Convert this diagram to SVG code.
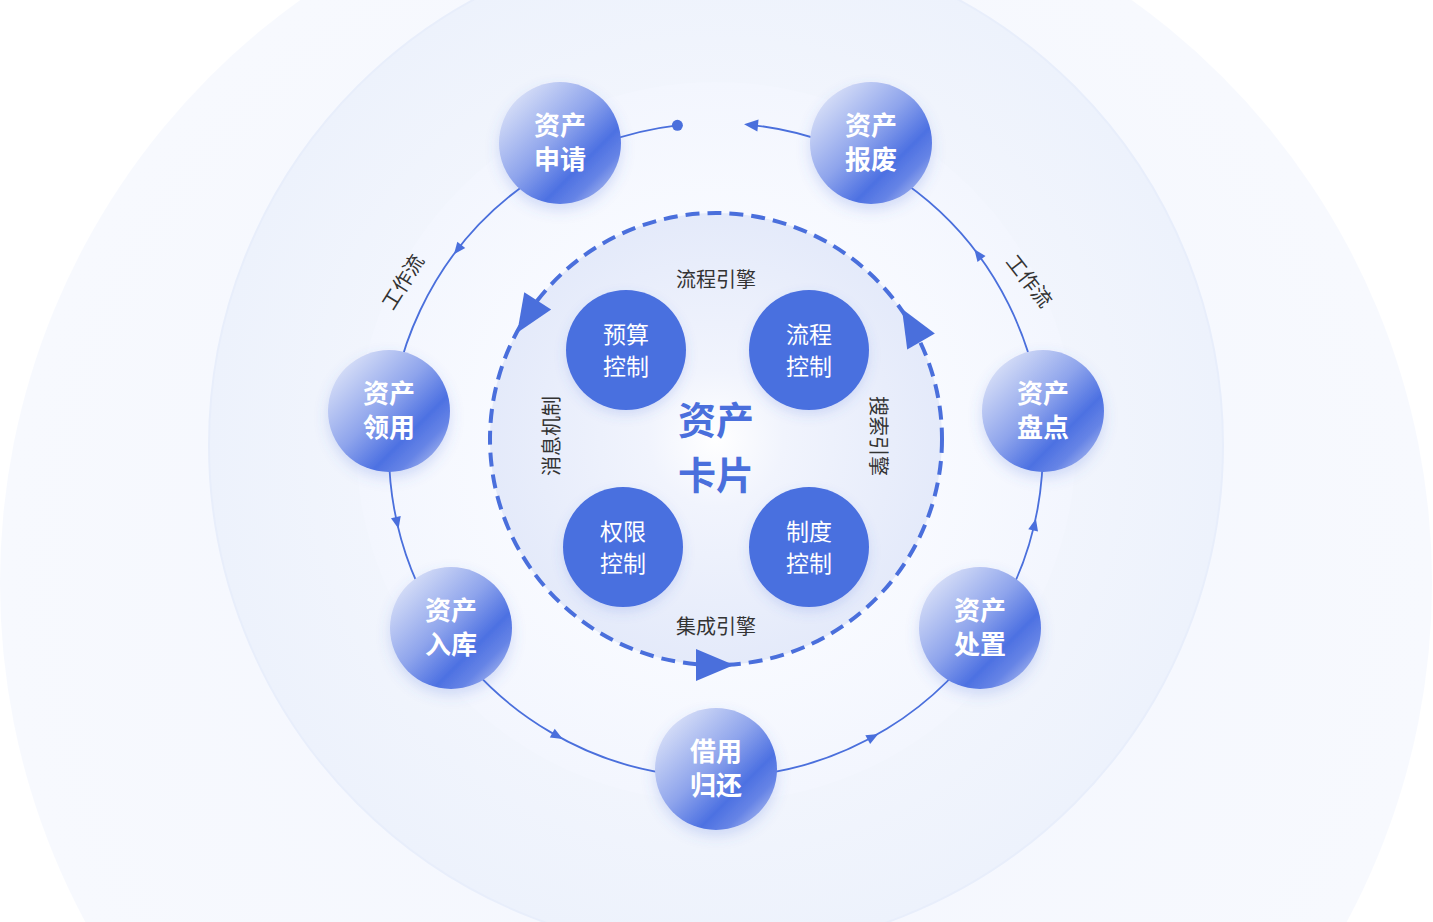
<svg xmlns="http://www.w3.org/2000/svg" width="1433" height="922" viewBox="0 0 1433 922">
  <defs>
    <radialGradient id="bgOuter" cx="0.5" cy="0.5" r="0.5">
      <stop offset="0" stop-color="#f3f6fe"/>
      <stop offset="1" stop-color="#f7f9fe"/>
    </radialGradient>
    <radialGradient id="bgMid" cx="0.5" cy="0.5" r="0.5">
      <stop offset="0.6" stop-color="#f3f6fd"/>
      <stop offset="1" stop-color="#edf2fc"/>
    </radialGradient>
    <radialGradient id="bgRing" cx="0.5" cy="0.5" r="0.5">
      <stop offset="0.6" stop-color="#f8faff"/>
      <stop offset="1" stop-color="#f3f6fe"/>
    </radialGradient>
    <radialGradient id="coreGrad" cx="0.5" cy="0.5" r="0.5">
      <stop offset="0" stop-color="#ffffff"/>
      <stop offset="0.3" stop-color="#f1f4fd"/>
      <stop offset="1" stop-color="#e4eafa"/>
    </radialGradient>
    <linearGradient id="nodeGrad" x1="0.1" y1="0.1" x2="0.9" y2="0.9">
      <stop offset="0" stop-color="#dbe2f8"/>
      <stop offset="0.45" stop-color="#8ea4ec"/>
      <stop offset="0.72" stop-color="#4d71e2"/>
      <stop offset="0.86" stop-color="#6684e6"/>
      <stop offset="1" stop-color="#a3b4ee"/>
    </linearGradient>
    <filter id="shadow" x="-30%" y="-30%" width="160%" height="160%">
      <feDropShadow dx="0" dy="6" stdDeviation="7" flood-color="#4a6fdc" flood-opacity="0.22"/>
    </filter>
    <filter id="shadowSoft" x="-30%" y="-30%" width="160%" height="160%">
      <feDropShadow dx="0" dy="5" stdDeviation="6" flood-color="#4a6fdc" flood-opacity="0.18"/>
    </filter>
  </defs>
  <style>
    .outer circle { fill: url(#nodeGrad); filter: url(#shadow); }
    .outer text { fill: #ffffff; font-family: "Noto Sans CJK SC", "Noto Sans", sans-serif; font-weight: 700; font-size: 26px; text-anchor: middle; }
    .inner circle { fill: #4a6fdf; filter: url(#shadowSoft); }
    .inner text { fill: #ffffff; font-family: "Noto Sans CJK SC", "Noto Sans", sans-serif; font-weight: 400; font-size: 23px; text-anchor: middle; }
    .lbl { fill: #333333; font-family: "Noto Sans CJK SC", "Noto Sans", sans-serif; font-size: 20px; text-anchor: middle; }
    .core { fill: #4a6fdc; font-family: "Noto Sans CJK SC", "Noto Sans", sans-serif; font-weight: 700; font-size: 38px; text-anchor: middle; }
    .ring { fill: none; stroke: #4a6fdc; stroke-width: 1.8; }
    .dash { fill: none; stroke: #4a6fdc; stroke-width: 4; stroke-dasharray: 14 8; }
    .ah { fill: #4a6fdc; }
  </style>

  <rect width="1433" height="922" fill="#ffffff"/>
  <g id="background">
    <circle cx="716" cy="583" r="716" fill="url(#bgOuter)"/>
    <circle cx="716" cy="445" r="507" fill="url(#bgMid)" stroke="#e8eefb" stroke-width="2"/>
    <circle cx="716" cy="442" r="360" fill="url(#bgRing)"/>
    <circle cx="716" cy="439" r="226" fill="url(#coreGrad)"/>
  </g>

  <g id="connectors">
    <path class="ring" d="M 677.4 125.3 A 327 327 0 1 0 747.9 124.6"/>
    <circle class="ah" cx="677.4" cy="125.3" r="5.5"/>
    <polygon class="ah" points="7,0 -7,-6 -7,6" transform="translate(751 124.9) rotate(-174.4)"/>
    <polygon class="ah" points="6,0 -6,-5 -6,5" transform="translate(457.6 249.6) rotate(127.8)"/>
    <polygon class="ah" points="6,0 -6,-5 -6,5" transform="translate(397.2 523) rotate(77.1)"/>
    <polygon class="ah" points="6,0 -6,-5 -6,5" transform="translate(557.5 736.1) rotate(29)"/>
    <polygon class="ah" points="6,0 -6,-5 -6,5" transform="translate(873 736.8) rotate(-28.7)"/>
    <polygon class="ah" points="6,0 -6,-5 -6,5" transform="translate(1034.5 524.6) rotate(-76.8)"/>
    <polygon class="ah" points="6,0 -6,-5 -6,5" transform="translate(977.9 254.1) rotate(-126.8)"/>

    <circle class="dash" cx="716" cy="439" r="226"/>
    <polygon class="ah" points="20,0 -18,-16 -18,16" transform="translate(714 665) rotate(0)"/>
    <polygon class="ah" points="20,0 -18,-16 -18,16" transform="translate(528 316) rotate(122.7)"/>
    <polygon class="ah" points="20,0 -18,-16 -18,16" transform="translate(912 326) rotate(-120.2)"/>
  </g>

  <g id="labels">
    <text class="lbl" transform="translate(403 282) rotate(-58)" dy="7">工作流</text>
    <text class="lbl" transform="translate(1029 281) rotate(52)" dy="7">工作流</text>
    <text class="lbl" x="716" y="287">流程引擎</text>
    <text class="lbl" x="716" y="634">集成引擎</text>
    <text class="lbl" transform="translate(552 436) rotate(-90)" dy="7">消息机制</text>
    <text class="lbl" transform="translate(878 436) rotate(90)" dy="7">搜索引擎</text>
  </g>

  <g id="node-apply" class="outer">
    <circle cx="560" cy="143" r="61"/>
    <text x="560" y="135">资产</text>
    <text x="560" y="169">申请</text>
  </g>
  <g id="node-scrap" class="outer">
    <circle cx="871" cy="143" r="61"/>
    <text x="871" y="135">资产</text>
    <text x="871" y="169">报废</text>
  </g>
  <g id="node-receive" class="outer">
    <circle cx="389" cy="411" r="61"/>
    <text x="389" y="403">资产</text>
    <text x="389" y="437">领用</text>
  </g>
  <g id="node-inventory" class="outer">
    <circle cx="1043" cy="411" r="61"/>
    <text x="1043" y="403">资产</text>
    <text x="1043" y="437">盘点</text>
  </g>
  <g id="node-storage" class="outer">
    <circle cx="451" cy="628" r="61"/>
    <text x="451" y="620">资产</text>
    <text x="451" y="654">入库</text>
  </g>
  <g id="node-dispose" class="outer">
    <circle cx="980" cy="628" r="61"/>
    <text x="980" y="620">资产</text>
    <text x="980" y="654">处置</text>
  </g>
  <g id="node-borrow" class="outer">
    <circle cx="716" cy="769" r="61"/>
    <text x="716" y="761">借用</text>
    <text x="716" y="795">归还</text>
  </g>

  <g id="node-budget" class="inner">
    <circle cx="626" cy="350" r="60"/>
    <text x="626" y="343">预算</text>
    <text x="626" y="375">控制</text>
  </g>
  <g id="node-process" class="inner">
    <circle cx="809" cy="350" r="60"/>
    <text x="809" y="343">流程</text>
    <text x="809" y="375">控制</text>
  </g>
  <g id="node-permission" class="inner">
    <circle cx="623" cy="547" r="60"/>
    <text x="623" y="540">权限</text>
    <text x="623" y="572">控制</text>
  </g>
  <g id="node-policy" class="inner">
    <circle cx="809" cy="547" r="60"/>
    <text x="809" y="540">制度</text>
    <text x="809" y="572">控制</text>
  </g>

  <g id="node-card">
    <text class="core" x="716" y="434">资产</text>
    <text class="core" x="716" y="489">卡片</text>
  </g>
</svg>
